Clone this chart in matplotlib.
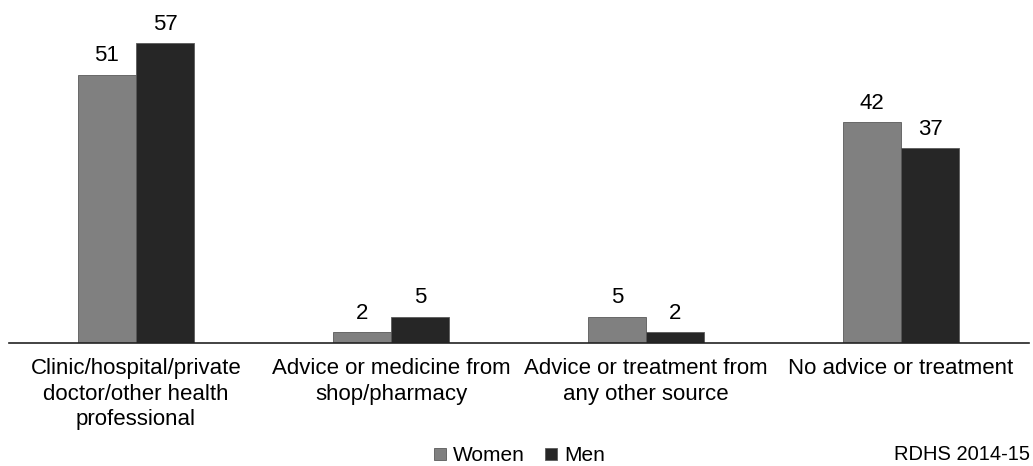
import numpy as np
import matplotlib.pyplot as plt
from matplotlib.patches import Patch

categories = ["Clinic/hospital/private\ndoctor/other health\nprofessional",
              "Advice or medicine from\nshop/pharmacy",
              "Advice or treatment from\nany other source",
              "No advice or treatment"]
women = [51, 2, 5, 42]
men = [57, 5, 2, 37]

plt.rcParams["font.family"] = ["Liberation Sans", "DejaVu Sans"]

fig = plt.figure(figsize=(10.33, 4.66), dpi=100)
ax = fig.add_axes([8.5 / 1033, 123 / 466, 1020 / 1033, 343 / 466])

x = np.arange(len(categories))
w = 0.229
c_women = "#808080"
c_men = "#262626"
b1 = ax.bar(x - w / 2, women, w, color=c_women, edgecolor="#5a5a5a", linewidth=0.6)
b2 = ax.bar(x + w / 2, men, w, color=c_men, edgecolor="#5a5a5a", linewidth=0.6)

for bars, vals in [(b1, women), (b2, men)]:
    for b, v in zip(bars, vals):
        ax.annotate(str(v), (b.get_x() + b.get_width() / 2, v),
                    xytext=(0, 6), textcoords="offset points",
                    ha="center", va="bottom", fontsize=16)

ax.set_xlim(-0.5, 3.5)
ax.set_ylim(0, 65.2)
ax.set_xticks(x)
ax.set_xticklabels(categories, fontsize=16, linespacing=1.27)
ax.tick_params(axis="x", length=0, pad=11)
ax.set_yticks([])
for s in ["top", "right", "left"]:
    ax.spines[s].set_visible(False)
ax.spines["bottom"].set_color("#222222")
ax.spines["bottom"].set_linewidth(1.2)

handles = [Patch(facecolor=c_women, edgecolor="#5a5a5a", linewidth=0.6),
           Patch(facecolor=c_men, edgecolor="#5a5a5a", linewidth=0.6)]
fig.legend(handles, ["Women", "Men"], loc="center", bbox_to_anchor=(0.503, 0.022),
           ncol=2, frameon=False, fontsize=15, handlelength=0.56, handleheight=0.56,
           handletextpad=0.35, columnspacing=0.95)

fig.text(0.997, 0.004, "RDHS 2014-15", ha="right", va="bottom", fontsize=14.5)

fig.savefig("out.png", dpi=100)
